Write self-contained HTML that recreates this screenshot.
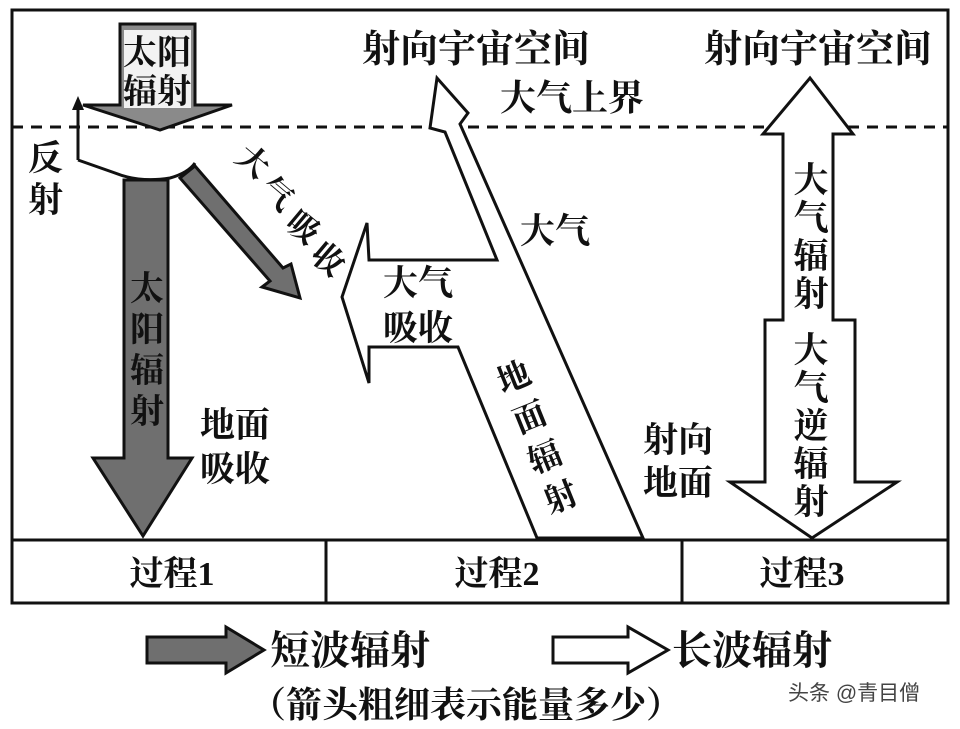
<!DOCTYPE html>
<html><head><meta charset="utf-8"><style>
body{margin:0;background:#fff;}
svg{display:block;}
text{font-family:"Liberation Serif","Noto Serif CJK SC",serif;fill:#111;font-weight:bold;}
</style></head><body>
<svg width="960" height="729" viewBox="0 0 960 729" xmlns="http://www.w3.org/2000/svg">
<rect x="12" y="10" width="936" height="593" fill="#fff" stroke="#111" stroke-width="3"/>
<line x1="12" y1="540" x2="948" y2="540" stroke="#111" stroke-width="3"/>
<line x1="326" y1="540" x2="326" y2="603" stroke="#111" stroke-width="3"/>
<line x1="682" y1="540" x2="682" y2="603" stroke="#111" stroke-width="3"/>
<line x1="12" y1="127" x2="948" y2="127" stroke="#111" stroke-width="3" stroke-dasharray="11,8"/>

<!-- process 1 -->
<polygon points="120,24 195,24 195,105 232,105 160,130 83,105 120,105" fill="#8a8a8a" stroke="#111" stroke-width="3"/>
<rect x="124" y="30" width="67" height="78" fill="#f2f2f2"/>
<text x="157" y="64" font-size="34" text-anchor="middle">太阳</text>
<text x="157" y="103" font-size="34" text-anchor="middle">辐射</text>
<polyline points="78,160 78,103" fill="none" stroke="#111" stroke-width="3"/>
<polygon points="78,96 72,110 84,110" fill="#111"/>
<path d="M78,160 L115,173 Q140,183 170,178 Q188,173 195,163" fill="none" stroke="#111" stroke-width="3"/>
<polygon points="124,180 168,180 168,458 192,458 143,536 93,458 124,458" fill="#6f6f6f" stroke="#111" stroke-width="3"/>
<polygon points="195,166 283,268 291,264 300,298 262,287 270,281 180,178" fill="#6f6f6f" stroke="#111" stroke-width="3"/>
<text x="28" y="170" font-size="35">反</text>
<text x="28" y="212" font-size="35">射</text>
<g font-size="34" text-anchor="middle">
<text x="147" y="300">太</text><text x="147" y="341">阳</text><text x="147" y="382">辐</text><text x="147" y="423">射</text>
</g>
<text x="200" y="437" font-size="35">地面</text>
<text x="200" y="481" font-size="35">吸收</text>
<g font-size="32" text-anchor="middle">
<text transform="translate(246,170) rotate(40)">大</text>
<text transform="translate(270,202) rotate(40)">气</text>
<text transform="translate(296,236) rotate(40)">吸</text>
<text transform="translate(321,268) rotate(40)">收</text>
</g>

<!-- process 2 -->
<polygon points="643,538 537,538 458,347 369,347 369,383 342,297 367,223 369,260 497,260 445,132 430,128 437,78 468,113 460,124" fill="#fff" stroke="#111" stroke-width="3" stroke-linejoin="miter"/>
<text x="362" y="62" font-size="38">射向宇宙空间</text>
<text x="500" y="110" font-size="36">大气上界</text>
<text x="520" y="243" font-size="35">大气</text>
<text x="383" y="295" font-size="35">大气</text>
<text x="383" y="340" font-size="35">吸收</text>
<g font-size="33" text-anchor="middle">
<text transform="translate(518,388) rotate(-22)">地</text>
<text transform="translate(534,428) rotate(-22)">面</text>
<text transform="translate(549,468) rotate(-22)">辐</text>
<text transform="translate(565,508) rotate(-22)">射</text>
</g>

<!-- process 3 -->
<polygon points="810,78 853,134 833,134 833,320 855,320 855,482 897,482 812,538 730,482 765,482 765,320 783,320 783,134 763,134" fill="#fff" stroke="#111" stroke-width="3"/>
<text x="704" y="62" font-size="38">射向宇宙空间</text>
<g font-size="35" text-anchor="middle">
<text x="811" y="192">大</text><text x="811" y="230">气</text><text x="811" y="268">辐</text><text x="811" y="306">射</text>
<text x="811" y="362">大</text><text x="811" y="400">气</text><text x="811" y="438">逆</text><text x="811" y="476">辐</text><text x="811" y="514">射</text>
</g>
<text x="643" y="452" font-size="35">射向</text>
<text x="643" y="495" font-size="35">地面</text>

<!-- table labels -->
<g font-size="34" text-anchor="middle">
<text x="172" y="585">过程1</text>
<text x="497" y="585">过程2</text>
<text x="802" y="585">过程3</text>
</g>

<!-- legend -->
<polygon points="147,637 226,637 226,627 264,650 226,673 226,663 147,663" fill="#6f6f6f" stroke="#111" stroke-width="3"/>
<text x="270" y="664" font-size="40">短波辐射</text>
<polygon points="553,637 628,637 628,627 668,650 628,673 628,663 553,663" fill="#fff" stroke="#111" stroke-width="3"/>
<text x="672" y="664" font-size="40">长波辐射</text>
<text x="250" y="717" font-size="36">（箭头粗细表示能量多少）</text>
<text x="788" y="700" font-size="21" style="font-weight:normal;fill:#444;font-family:'Liberation Sans','Noto Sans CJK SC',sans-serif">头条 @青目僧</text>
</svg>
</body></html>
